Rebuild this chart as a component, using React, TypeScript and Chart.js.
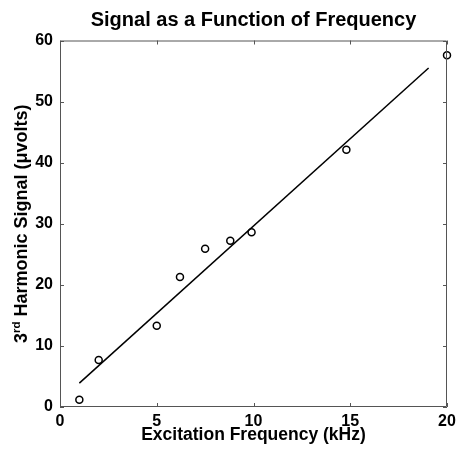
import React, { useEffect, useRef } from "react";
import { Chart, registerables } from "chart.js";

Chart.register(...registerables);

const freqKHz = [1.0, 2.0, 5.0, 6.2, 7.5, 8.8, 9.9, 14.8, 20.0];
const signalUV = [1.2, 7.7, 13.3, 21.3, 25.9, 27.2, 28.6, 42.1, 57.6];
const fitX = [1.0, 19.05];
const fitY = [3.9, 55.5];
const xTicks = [0, 5, 10, 15, 20];
const yTicks = [0, 10, 20, 30, 40, 50, 60];

const titleText = "Signal as a Function of Frequency";
const xLabel = "Excitation Frequency (kHz)";
const yLabelMain = "3";
const yLabelSup = "rd";
const yLabelRest = " Harmonic Signal (\u03BCvolts)";

const FONT = "'Liberation Sans', Arial, Helvetica, sans-serif";

const framePlugin = {
  id: "frameTicks",
  afterDraw(chart: any) {
    const { ctx, chartArea: a, scales } = chart;
    ctx.save();
    ctx.strokeStyle = "#555";
    ctx.lineWidth = 1;
    ctx.beginPath();
    ctx.rect(a.left + 0.5, a.top + 0.5, a.right - a.left - 1, a.bottom - a.top - 1);
    ctx.stroke();
    const tl = 4;
    ctx.beginPath();
    xTicks.forEach((v) => {
      const px = Math.round(scales.x.getPixelForValue(v)) + 0.5;
      ctx.moveTo(px, a.bottom);
      ctx.lineTo(px, a.bottom - tl);
      ctx.moveTo(px, a.top);
      ctx.lineTo(px, a.top + tl);
    });
    yTicks.forEach((v) => {
      const py = Math.round(scales.y.getPixelForValue(v)) + 0.5;
      ctx.moveTo(a.left, py);
      ctx.lineTo(a.left + tl, py);
      ctx.moveTo(a.right, py);
      ctx.lineTo(a.right - tl, py);
    });
    ctx.stroke();

    // y-axis title with superscript
    const mainSize = 18;
    const supSize = 11.5;
    ctx.fillStyle = "#000";
    ctx.textBaseline = "alphabetic";
    ctx.textAlign = "left";
    ctx.font = `bold ${mainSize}px ${FONT}`;
    const w1 = ctx.measureText(yLabelMain).width;
    const w3 = ctx.measureText(yLabelRest).width;
    ctx.font = `bold ${supSize}px ${FONT}`;
    const w2 = ctx.measureText(yLabelSup).width;
    const total = w1 + w2 + w3;
    const cy = (a.top + a.bottom) / 2;
    ctx.translate(27, cy);
    ctx.rotate(-Math.PI / 2);
    let x = -total / 2;
    ctx.font = `bold ${mainSize}px ${FONT}`;
    ctx.fillText(yLabelMain, x, 0);
    x += w1;
    ctx.font = `bold ${supSize}px ${FONT}`;
    ctx.fillText(yLabelSup, x, -7.5);
    x += w2;
    ctx.font = `bold ${mainSize}px ${FONT}`;
    ctx.fillText(yLabelRest, x, 0);
    ctx.restore();
  },
};

export default function App() {
  const ref = useRef<HTMLCanvasElement>(null);
  useEffect(() => {
    if (!ref.current) return;
    const chart = new Chart(ref.current, {
      type: "scatter",
      data: {
        datasets: [
          {
            type: "scatter",
            label: "Data",
            data: freqKHz.map((f, i) => ({ x: f, y: signalUV[i] })),
            pointStyle: "circle",
            pointRadius: 3.5,
            pointBorderWidth: 1.5,
            borderColor: "#000",
            backgroundColor: "rgba(255,255,255,0)",
            clip: false,
          },
          {
            type: "line",
            label: "Fit",
            data: fitX.map((f, i) => ({ x: f, y: fitY[i] })),
            borderColor: "#000",
            borderWidth: 1.5,
            pointRadius: 0,
            fill: false,
            tension: 0,
          },
        ],
      },
      options: {
        animation: false,
        responsive: true,
        maintainAspectRatio: false,
        layout: { padding: { left: 0, right: 9, top: 0, bottom: 3 } },
        plugins: {
          legend: { display: false },
          tooltip: { enabled: false },
          title: {
            display: true,
            text: titleText,
            fullSize: false,
            color: "#000",
            font: { family: FONT, size: 20, weight: "bold" },
            padding: { top: 8, bottom: 8.5 },
          },
        },
        scales: {
          x: {
            type: "linear",
            min: 0,
            max: 20,
            afterBuildTicks: (s: any) => {
              s.ticks = xTicks.map((v) => ({ value: v }));
            },
            afterFit: (s: any) => {
              s.height = 39;
              s.paddingLeft = 0;
              s.paddingRight = 0;
            },
            grid: { display: false, drawTicks: false },
            border: { display: false },
            ticks: {
              color: "#000",
              padding: 5,
              font: { family: FONT, size: 16, weight: "bold" },
            },
            title: {
              display: true,
              text: xLabel,
              color: "#000",
              font: { family: FONT, size: 17.5, weight: "bold" },
              padding: { top: 0, bottom: 0 },
            },
          },
          y: {
            type: "linear",
            min: 0,
            max: 60,
            afterBuildTicks: (s: any) => {
              s.ticks = yTicks.map((v) => ({ value: v }));
            },
            afterFit: (s: any) => {
              s.width = 60;
              s.paddingTop = 0;
              s.paddingBottom = 0;
            },
            grid: { display: false, drawTicks: false },
            border: { display: false },
            ticks: {
              color: "#000",
              padding: 7,
              font: { family: FONT, size: 16, weight: "bold" },
            },
          },
        },
      },
      plugins: [framePlugin],
    } as any);
    return () => chart.destroy();
  }, []);
  return (
    <div style={{ position: "fixed", left: 0, top: 0, width: 456, height: 449, background: "#fff" }}>
      <canvas ref={ref} />
    </div>
  );
}
